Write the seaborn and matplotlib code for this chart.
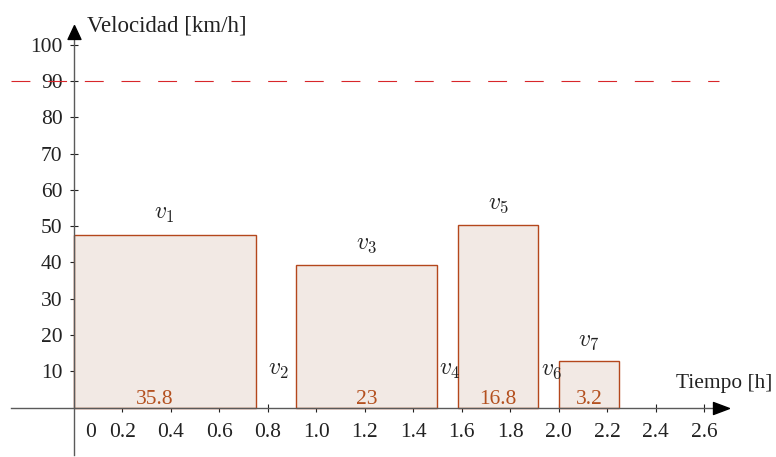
import matplotlib
matplotlib.use("Agg")
import matplotlib.pyplot as plt
import seaborn as sns
import numpy as np

# ---- data ----
bar_starts = [0.0, 0.9167, 1.5833, 2.0]          # h
bar_widths = [0.75, 0.5833, 0.3333, 0.25]        # h
bar_heights = [47.7, 39.4, 50.4, 12.8]           # km/h
bar_areas = ["35.8", "23", "16.8", "3.2"]        # km
bar_names = [r"$v_1$", r"$v_3$", r"$v_5$", r"$v_7$"]
gap_names = [r"$v_2$", r"$v_4$", r"$v_6$"]
speed_limit = 90
x_ticks = [0.2, 0.4, 0.6, 0.8, 1.0, 1.2, 1.4, 1.6, 1.8, 2.0, 2.2, 2.4, 2.6]
x_tick_labels = ["0.2", "0.4", "0.6", "0.8", "1.0", "1.2", "1.4", "1.6", "1.8", "2.0", "2.2", "2.4", "2.6"]
y_ticks = [10, 20, 30, 40, 50, 60, 70, 80, 90, 100]
y_label = "Velocidad [km/h]"
x_label = "Tiempo [h]"

sns.set_theme(style="white")
plt.rcParams["font.family"] = ["Liberation Serif", "DejaVu Serif"]
plt.rcParams["mathtext.fontset"] = "cm"

FS = 15.5
VFS = 17
edge_c = "#b4471c"
fill_c = "#f2e9e4"
num_c = "#b4501f"
txt_c = "#222222"

fig = plt.figure(figsize=(7.76, 4.57), dpi=100)
ax = fig.add_axes([0, 0, 1, 1])
ax.set_xlim(-0.304, 2.896)
ax.set_ylim(-13.58, 112.3)
ax.set_facecolor("white")

# bars
ax.bar(bar_starts, bar_heights, width=bar_widths, align="edge",
       color=fill_c, edgecolor=edge_c, linewidth=1.0, zorder=2)

starts = np.array(bar_starts)
widths = np.array(bar_widths)
heights = np.array(bar_heights)
centers = starts + widths / 2
ends = starts + widths

for i, (cx, h, name, area) in enumerate(zip(centers, heights, bar_names, bar_areas)):
    ax.text(cx, h + 4.2, name, ha="center", va="baseline", fontsize=VFS, color=txt_c)
    shift = -0.04 if i == 0 else 0.0
    ax.text(cx + shift, 1.1, area, ha="center", va="baseline", fontsize=FS, color=num_c, zorder=3)

gap_centers = (ends[:-1] + starts[1:]) / 2
for gx, name in zip(gap_centers, gap_names):
    ax.text(gx + 0.01, 9.0, name, ha="center", va="baseline", fontsize=VFS, color=txt_c)

# speed limit line
ax.plot([-0.258, 2.662], [speed_limit, speed_limit], color="#d8262a", lw=0.8,
        dashes=(17, 16), zorder=1, clip_on=False)

# axes at zero
for s in ["top", "right"]:
    ax.spines[s].set_visible(False)
ax.spines["bottom"].set_position(("data", 0))
ax.spines["left"].set_position(("data", 0))
ax.spines["bottom"].set_bounds(-0.258, 2.64)
ax.spines["left"].set_bounds(-13.0, 101.5)
for s in ["bottom", "left"]:
    ax.spines[s].set_color("#5a5a5a")
    ax.spines[s].set_linewidth(1.0)
    ax.spines[s].set_zorder(4)

ax.set_xticks(x_ticks)
ax.set_xticklabels(x_tick_labels)
ax.set_yticks(y_ticks)
ax.tick_params(axis="both", direction="inout", length=6, width=0.8, color=txt_c,
               labelsize=FS, labelcolor=txt_c)
ax.tick_params(axis="x", pad=8)
ax.tick_params(axis="y", pad=5)
ax.xaxis.set_ticks_position("bottom")
ax.yaxis.set_ticks_position("left")

ax.text(0.068, -6.7, "0", ha="center", va="center", fontsize=FS, color=txt_c)

# arrow heads
ax.plot([2.669], [0], marker=[(1, 0), (-1, 0.75), (-1, -0.75), (1, 0)], ms=11.5,
        color="black", clip_on=False, zorder=5, linestyle="none")
ax.plot([0], [103.5], marker=[(0, 1), (-0.93, -1), (0.93, -1), (0, 1)], ms=10,
        color="black", clip_on=False, zorder=5, linestyle="none")

ax.text(0.055, 105.2, y_label, ha="left", va="center", fontsize=16.5, color=txt_c)
ax.text(2.484, 6.8, x_label, ha="left", va="center", fontsize=15.4, color=txt_c)

fig.savefig("out.png", dpi=100)
